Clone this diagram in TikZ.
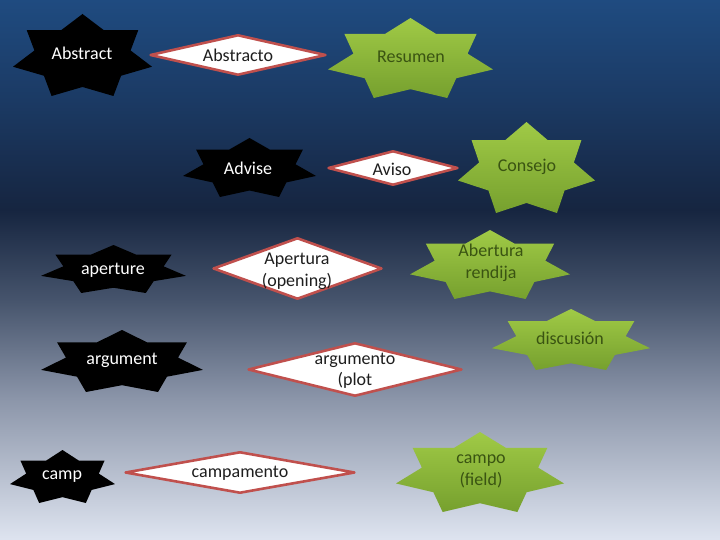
\documentclass[tikz,border=0pt]{standalone}
\usepackage{fontspec}
\setmainfont{Carlito}
\definecolor{bgA}{RGB}{222,228,240}
\definecolor{bgB}{RGB}{140,150,170}
\definecolor{bgC}{RGB}{70,84,108}
\definecolor{bgD}{RGB}{22,37,64}
\definecolor{bgE}{RGB}{27,58,100}
\definecolor{bgF}{RGB}{31,75,128}
\definecolor{diamred}{RGB}{192,80,77}
\definecolor{greentop}{RGB}{160,202,70}
\definecolor{greenbot}{RGB}{118,160,46}
\definecolor{greentext}{RGB}{58,84,18}
\definecolor{darktext}{RGB}{30,30,30}
\pgfdeclareverticalshading{bgshade}{100bp}{color(0bp)=(bgA); color(25bp)=(bgA); color(37.96bp)=(bgB); color(47.22bp)=(bgC); color(55.56bp)=(bgD); color(65.74bp)=(bgE); color(75bp)=(bgF); color(100bp)=(bgF)}
\newcommand\hstar[5]{%
  \pgfmathsetmacro\hcx{(#1+#3)/2}%
  \pgfmathsetmacro\hrx{(#3-#1)/1.94986}%
  \pgfmathsetmacro\hry{(#4-#2)/1.90097}%
  \pgfmathsetmacro\hcy{#2+\hry}%
  \path[#5] ({\hcx},{#2}) \foreach \k in {0,...,6}{%
     -- ({\hcx+0.692*\hrx*cos(90+(\k+0.5)*360/7)},{\hcy-0.692*\hry*sin(90+(\k+0.5)*360/7)})
     -- ({\hcx+\hrx*cos(90+(\k+1)*360/7)},{\hcy-\hry*sin(90+(\k+1)*360/7)})} -- cycle;}
\newcommand\hdiam[4]{%
  \draw[diam] ({(#1+#3)/2},{#2+1.3}) -- ({#3-1.6},{(#2+#4)/2}) -- ({(#1+#3)/2},{#4-1.3}) -- ({#1+1.6},{(#2+#4)/2}) -- cycle;}
\tikzset{
  blackstar/.style={fill=black},
  greenstar/.style={top color=greentop, bottom color=greenbot},
  diam/.style={draw=diamred, fill=white, line width=2.6pt, line join=round},
  txt/.style={inner sep=0pt, align=center, font=\fontsize{18}{21.5}\selectfont},
  wtxt/.style={txt, text=white},
  dtxt/.style={txt, text=darktext},
  gtxt/.style={txt, text=greentext}
}
\begin{document}
\begin{tikzpicture}[x=1pt, y=-1pt]
\useasboundingbox (0,0) rectangle (720,540);
\path[shading=bgshade] (0,0) rectangle (720,540);

% black stars
\hstar{13}{14}{152}{96}{blackstar}
\hstar{183}{138}{316}{197}{blackstar}
\hstar{41}{245}{186}{293}{blackstar}
\hstar{41}{330}{203}{392}{blackstar}
\hstar{10}{450}{115}{503}{blackstar}
\node[wtxt] (abstract) at (82,53) {Abstract};
\node[wtxt] (advise) at (248,168) {Advise};
\node[wtxt] (aperture) at (113,270) {aperture};
\node[wtxt] (argument) at (122,360) {argument};
\node[wtxt] (camp) at (62,477) {camp};

% diamonds
\hdiam{149}{34}{327}{76}
\hdiam{327}{150}{459}{186}
\hdiam{212}{237}{383}{300}
\hdiam{247}{342}{463}{397}
\hdiam{124}{451}{356}{494}
\node[dtxt] (abstracto) at (238,55) {Abstracto};
\node[dtxt] (aviso) at (392,169) {Aviso};
\node[dtxt] (apertura) at (297,271.5) {Apertura\\(opening)};
\node[dtxt] (argumento) at (355,371) {argumento\\(plot};
\node[dtxt] (campamento) at (240,473) {campamento};

% green stars
\hstar{328}{18}{493}{98}{greenstar}
\hstar{458}{122}{595}{213}{greenstar}
\hstar{410}{230}{570}{299}{greenstar}
\hstar{492}{309}{650}{370}{greenstar}
\hstar{396}{432}{564}{512}{greenstar}
\node[gtxt] (resumen) at (411,57) {Resumen};
\node[gtxt] (consejo) at (527,167) {Consejo};
\node[gtxt] (abertura) at (491,263) {Abertura\\rendija};
\node[gtxt] (discusion) at (570,338) {discusión};
\node[gtxt] (campo) at (481,471.5) {campo\\(field)};
\end{tikzpicture}
\end{document}
